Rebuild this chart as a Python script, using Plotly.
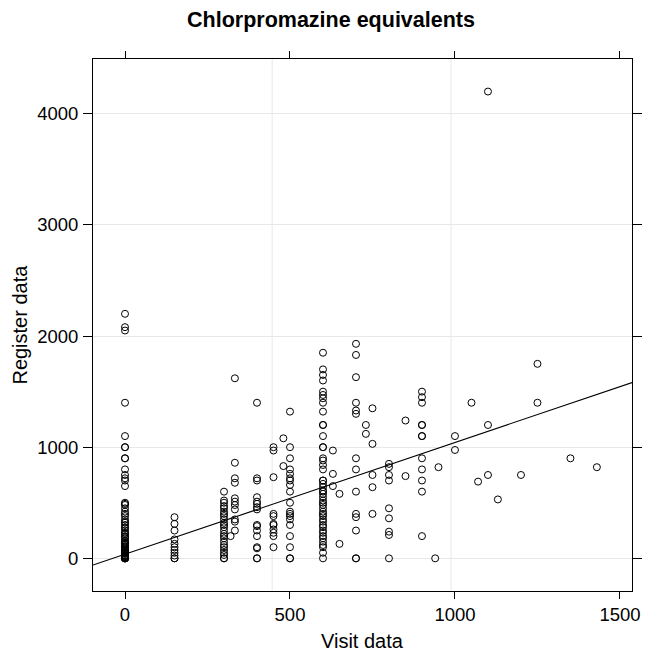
import plotly.graph_objects as go

# ---- data ----
col_0 = [2200, 2080, 2050, 1400, 1100, 1000, 1000, 900, 900, 800, 750, 720, 700, 650,
         500, 490, 480, 450, 420, 400, 380, 350, 330, 320, 300, 280, 270, 250, 230, 220,
         200, 190, 180, 160, 150, 140, 130, 120, 110, 100, 90, 80, 75, 70, 60, 50, 45,
         40, 30, 25, 20, 15, 10, 5, 0, 0, 0, 0, 0]
col_150 = [370, 310, 250, 170, 130, 100, 75, 50, 25, 0, 0]
col_300 = [600, 520, 500, 470, 450, 420, 400, 380, 350, 320, 300, 280, 250, 220, 200,
           180, 150, 120, 100, 75, 50, 30, 0, 0]
col_333 = [1620, 860, 720, 680, 540, 510, 480, 440, 350, 330, 250]
col_400 = [1400, 720, 700, 550, 510, 490, 460, 440, 300, 290, 250, 200, 100, 90, 0, 0]
col_450 = [1000, 970, 730, 400, 380, 310, 300, 260, 230, 200, 100]
col_500 = [1320, 1000, 900, 800, 760, 720, 700, 660, 600, 500, 420, 400, 380, 350, 300,
           200, 100, 0, 0]
col_600 = [1850, 1700, 1650, 1600, 1500, 1470, 1440, 1400, 1320, 1200, 1200, 1100, 1000,
           1000, 900, 880, 840, 800, 700, 700, 670, 640, 610, 600, 580, 550, 520, 500, 480,
           450, 420, 400, 380, 350, 330, 300, 280, 250, 230, 200, 180, 150, 120, 100, 50, 0]
col_700 = [1930, 1830, 1630, 1400, 1330, 1300, 900, 800, 600, 400, 370, 250, 0, 0]
col_750 = [1350, 1030, 750, 640, 400]
col_800 = [850, 820, 750, 700, 450, 360, 240, 210, 0]
col_900 = [1500, 1450, 1400, 1200, 1200, 1100, 1100, 900, 800, 700, 600, 200]

# scattered points (visit, register)
other_x = [320, 480, 480, 630, 630, 630, 650, 650, 730, 730, 850, 850, 940, 950,
           1000, 1000, 1050, 1070, 1100, 1100, 1100, 1130, 1200, 1250, 1250, 1350, 1430]
other_y = [200, 1080, 830, 970, 760, 650, 580, 130, 1200, 1120, 1240, 740, 0, 820,
           1100, 975, 1400, 690, 1200, 750, 4200, 530, 750, 1750, 1400, 900, 820]

columns = {0: col_0, 150: col_150, 300: col_300, 333: col_333, 400: col_400,
           450: col_450, 500: col_500, 600: col_600, 700: col_700, 750: col_750,
           800: col_800, 900: col_900}

# fitted line
line_intercept = 37.5
line_slope = 1.005

x_range = [-97, 1536.5]
y_range = [-294, 4493]
x_ticks = [0, 500, 1000, 1500]
y_ticks = [0, 1000, 2000, 3000, 4000]
vgrid_x = [446, 988]

title_text = "Chlorpromazine equivalents"
x_label = "Visit data"
y_label = "Register data"

# ---- build ----
xs, ys = [], []
for xv, vals in columns.items():
    xs += [xv] * len(vals)
    ys += vals
xs += other_x
ys += other_y

fig = go.Figure()
fig.add_trace(go.Scatter(
    x=xs, y=ys, mode="markers",
    marker=dict(symbol="circle-open", size=7, color="black", line=dict(width=1, color="black")),
    hoverinfo="x+y", showlegend=False))

lx = [x_range[0], x_range[1]]
ly = [line_intercept + line_slope * v for v in lx]
fig.add_trace(go.Scatter(x=lx, y=ly, mode="lines", line=dict(color="black", width=1.1),
                         showlegend=False, hoverinfo="skip"))

for gx in vgrid_x:
    fig.add_shape(type="line", xref="x", yref="paper", x0=gx, x1=gx, y0=0, y1=1,
                  line=dict(color="#e8e8e8", width=1), layer="below")

font_family = "Liberation Sans, Arial, Helvetica, sans-serif"
W, H = 646, 653
ml, mr, mt, mb = 92.5, 14, 58.5, 62
pw = W - ml - mr
ph = H - mt - mb

fig.update_layout(
    width=W, height=H,
    margin=dict(l=ml, r=mr, t=mt, b=mb, pad=0, autoexpand=False),
    paper_bgcolor="white", plot_bgcolor="white",
    font=dict(family=font_family, color="black", size=18.5),
    title=dict(text="<b>" + title_text + "</b>", x=331 / W, xanchor="center",
               y=1 - 19 / H, yanchor="middle", font=dict(size=21.5, family=font_family)),
    xaxis=dict(range=x_range, tickvals=x_ticks, ticks="outside", ticklen=7, tickwidth=1,
               tickcolor="black", showline=True, linecolor="black", linewidth=1,
               mirror="ticks", showgrid=False, zeroline=False, automargin=False,
               tickfont=dict(size=18.5)),
    yaxis=dict(range=y_range, tickvals=y_ticks, ticks="outside", ticklen=9, tickwidth=1,
               tickcolor="black", showline=True, linecolor="black", linewidth=1,
               mirror="ticks", showgrid=True, gridcolor="#e8e8e8", gridwidth=1,
               zeroline=False, automargin=False, ticklabelstandoff=1,
               tickfont=dict(size=18.5)),
    annotations=[
        dict(text=x_label, xref="paper", yref="paper", x=(362 - ml) / pw,
             y=-(641 - (H - mb)) / ph, xanchor="center", yanchor="middle",
             showarrow=False, font=dict(size=20, family=font_family)),
        dict(text=y_label, xref="paper", yref="paper", x=(19 - ml) / pw,
             y=0.5, xanchor="center", yanchor="middle", textangle=-90,
             showarrow=False, font=dict(size=20, family=font_family)),
    ],
)

fig.write_html("out.html", config={"displayModeBar": False},
               post_script="document.body.style.margin='0';")
